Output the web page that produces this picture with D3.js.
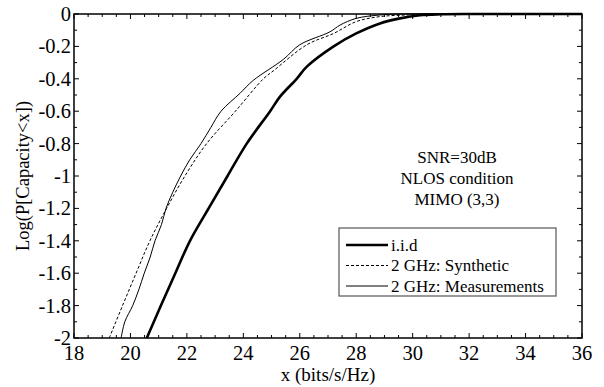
<!DOCTYPE html>
<html lang="en">
<head>
<meta charset="UTF-8">
<title>capacity cdf</title>
<script src="https://cdn.jsdelivr.net/npm/d3@7"></script>
<style>
  body { margin: 0; background: #fff; }
</style>
</head>
<body>
<svg width="604" height="387" font-family="Liberation Serif"></svg>
<script>
// curve points: [x, log P]
var iid = [[20.58,-2],[21.08,-1.8],[21.59,-1.6],[22.11,-1.4],[22.77,-1.2],[23.44,-1.0],[24.12,-0.8],
    [24.95,-0.6],[25.3,-0.51],[25.89,-0.4],[26.25,-0.325],[27.2,-0.2],[28.0,-0.12],
    [28.84,-0.058],[29.55,-0.027],[30.26,-0.008],[31.0,-0.002],[32,0],[36,0]];
var synthetic = [[19.25,-2],[19.72,-1.8],[20.2,-1.6],[20.69,-1.4],[21.28,-1.2],[21.93,-1.0],[22.7,-0.8],
    [23.72,-0.6],[24.71,-0.4],[25.07,-0.35],[26.25,-0.19],[27.2,-0.12],[28.0,-0.047],
    [28.84,-0.016],[29.8,-0.006],[30.6,0],[36,0]];
var measured = [[19.67,-2],[19.8,-1.9],[20.08,-1.8],[20.3,-1.7],[20.49,-1.6],[20.7,-1.5],[20.87,-1.4],
    [21.1,-1.3],[21.26,-1.2],[21.5,-1.1],[21.78,-1.0],[22.1,-0.9],[22.5,-0.8],[22.85,-0.7],[23.21,-0.6],
    [23.88,-0.49],[24.35,-0.41],[25.42,-0.28],[26.0,-0.19],[27.07,-0.11],[27.43,-0.068],[28.0,-0.027],
    [28.84,-0.006],[29.6,0],[36,0]];

var xTicks = [18, 20, 22, 24, 26, 28, 30, 32, 34, 36];
var yTicks = [0, -0.2, -0.4, -0.6, -0.8, -1, -1.2, -1.4, -1.6, -1.8, -2];
var notes = ["SNR=30dB", "NLOS condition", "MIMO (3,3)"];
var legendNames = ["i.i.d", "2 GHz: Synthetic", "2 GHz: Measurements"];

var mLeft = 74, mRight = 582, mTop = 14, mBottom = 338;
var svg = d3.select("svg");

var x = d3.scaleLinear().domain([18, 36]).range([mLeft, mRight]);
var y = d3.scaleLinear().domain([-2, 0]).range([mBottom, mTop]);

// frame
svg.append("rect")
    .attr("x", mLeft).attr("y", mTop)
    .attr("width", mRight - mLeft).attr("height", mBottom - mTop)
    .attr("fill", "none").attr("stroke", "#000").attr("stroke-width", 1.5);

// ticks pointing inward on all sides
var xMinor = d3.range(18, 36.01, 0.5);
var yMinor = d3.range(-2, 0.001, 0.1);
var tg = svg.append("g").attr("stroke", "#000").attr("stroke-width", 1);
xMinor.forEach(function(v) {
    var len = Math.abs(v - Math.round(v / 2) * 2) < 1e-6 ? 5 : 3;
    tg.append("line").attr("x1", x(v)).attr("x2", x(v)).attr("y1", mBottom).attr("y2", mBottom - len);
    tg.append("line").attr("x1", x(v)).attr("x2", x(v)).attr("y1", mTop).attr("y2", mTop + len);
});
yMinor.forEach(function(v) {
    var len = Math.abs(v * 5 - Math.round(v * 5)) < 1e-6 ? 5 : 3;
    tg.append("line").attr("y1", y(v)).attr("y2", y(v)).attr("x1", mLeft).attr("x2", mLeft + len);
    tg.append("line").attr("y1", y(v)).attr("y2", y(v)).attr("x1", mRight).attr("x2", mRight - len);
});

// tick labels
svg.selectAll(".xl").data(xTicks).enter().append("text")
    .attr("x", function(d) { return x(d); })
    .attr("y", 360)
    .attr("text-anchor", "middle")
    .style("font-size", "20.5px")
    .text(function(d) { return d; });

svg.selectAll(".yl").data(yTicks).enter().append("text")
    .attr("x", mLeft - 3)
    .attr("y", function(d) { return y(d) + 7; })
    .attr("text-anchor", "end")
    .style("font-size", "20.5px")
    .text(function(d) { return d; });

// axis titles
svg.append("text")
    .attr("x", 328).attr("y", 381)
    .attr("text-anchor", "middle")
    .style("font-size", "19px")
    .text("x (bits/s/Hz)");

svg.append("text")
    .attr("transform", "translate(29," + ((mTop + mBottom) / 2) + ") rotate(-90)")
    .attr("text-anchor", "middle")
    .style("font-size", "18.5px")
    .text("Log(P[Capacity<x])");

// curves
var line = d3.line()
    .x(function(d) { return x(d[0]); })
    .y(function(d) { return y(d[1]); })
    .curve(d3.curveCatmullRom.alpha(0.5));

var series = [
    { data: iid, width: 2.6, dash: null },
    { data: synthetic, width: 1, dash: "3,2" },
    { data: measured, width: 1, dash: null }
];
var plot = svg.append("g");
series.forEach(function(s) {
    plot.append("path")
        .attr("d", line(s.data))
        .attr("fill", "none")
        .attr("stroke", "#000")
        .attr("stroke-width", s.width)
        .attr("stroke-dasharray", s.dash);
});

// annotation
svg.selectAll(".note").data(notes).enter().append("text")
    .attr("x", 457)
    .attr("y", function(d, i) { return 163 + i * 21; })
    .attr("text-anchor", "middle")
    .style("font-size", "17px")
    .text(function(d) { return d; });

// legend
svg.append("rect")
    .attr("x", 339).attr("y", 228).attr("width", 217).attr("height", 68)
    .attr("fill", "#fff").attr("stroke", "#555").attr("stroke-width", 1.2);

var lg = svg.selectAll(".lg").data(legendNames).enter().append("g")
    .attr("transform", function(d, i) { return "translate(0," + (245 + i * 20.5) + ")"; });
lg.append("line")
    .attr("x1", 346).attr("x2", 388).attr("y1", 0).attr("y2", 0)
    .attr("stroke", "#000")
    .attr("stroke-width", function(d, i) { return series[i].width; })
    .attr("stroke-dasharray", function(d, i) { return series[i].dash; });
lg.append("text")
    .attr("x", 391).attr("y", 5.5)
    .style("font-size", "17px")
    .text(function(d) { return d; });
</script>
</body>
</html>
